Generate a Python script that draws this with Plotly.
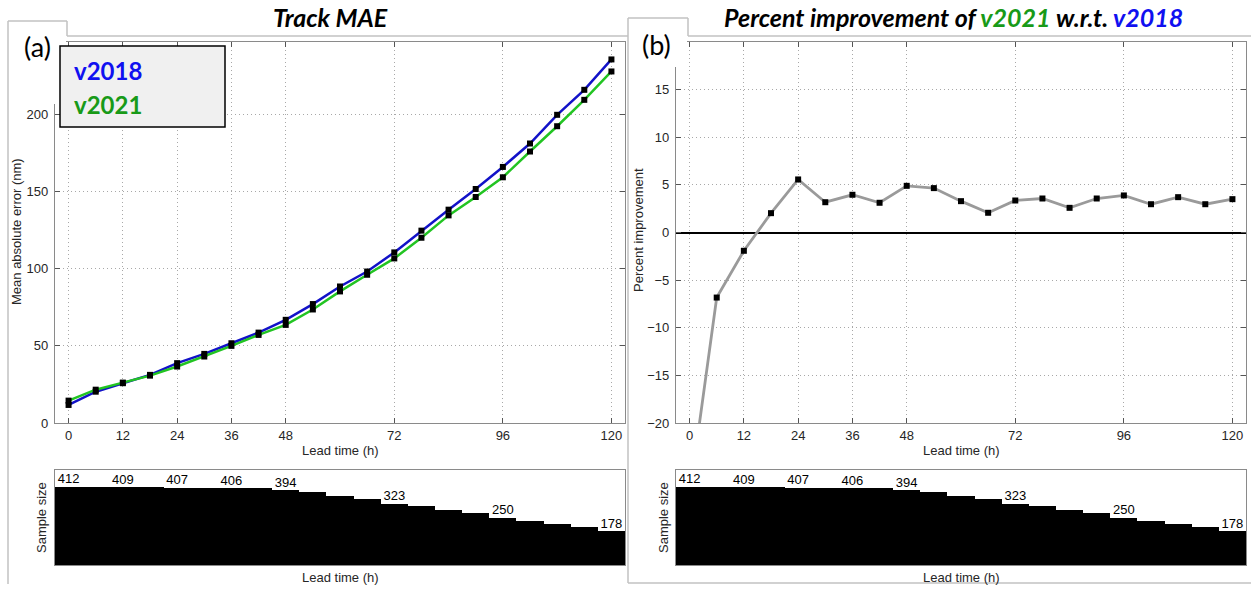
import plotly.graph_objects as go

# reference pixel space
REF_W, REF_H = 1251, 589
# the photographed viewport is slightly taller than 589 px and gets squeezed,
# so the figure is laid out a bit taller while keeping the same paper fractions
W, H = 1251, 597

# ---------------- data ----------------
lead = [0, 6, 12, 18, 24, 30, 36, 42, 48, 54, 60, 66, 72, 78, 84, 90, 96, 102, 108, 114, 120]
mae_v2018 = [11.7, 20.3, 25.8, 31.2, 38.8, 44.8, 51.7, 58.6, 66.9, 77.1, 88.5, 98.2,
             110.6, 124.7, 138.3, 151.7, 166.0, 181.2, 199.8, 216.0, 235.7]
mae_v2021 = [14.5, 21.6, 26.2, 30.7, 36.6, 43.1, 50.0, 57.1, 63.6, 73.6, 85.3, 96.1,
             106.7, 120.1, 134.6, 146.5, 159.3, 176.0, 192.4, 209.5, 227.9]
pct_improvement = [-27.6, -6.83, -1.92, 2.03, 5.57, 3.18, 3.96, 3.12, 4.90, 4.66, 3.29, 2.07,
                   3.36, 3.57, 2.59, 3.57, 3.89, 2.97, 3.71, 2.97, 3.50]
sample_size = [412, 412, 409, 408, 407, 407, 406, 405, 394, 382, 365, 347,
               323, 310, 289, 272, 250, 231, 214, 198, 178]
label_hours = [0, 12, 24, 36, 48, 72, 96, 120]
label_sizes = [412, 409, 407, 406, 394, 323, 250, 178]
x_ticks = [0, 12, 24, 36, 48, 72, 96, 120]
mae_ticks = [0, 50, 100, 150, 200]
pct_ticks = [-20, -15, -10, -5, 0, 5, 10, 15]

BLUE_LINE = "#1212c8"
GREEN_LINE = "#22c422"
BLUE_TXT = "#1010f0"
GREEN_TXT = "#189a18"
GREY_LINE = "#9a9a9a"

TICKFONT = dict(family="Liberation Sans, Arial", size=13, color="#262626")


def px(x):
    return min(1.0, max(0.0, x / REF_W))


def py(y):
    return min(1.0, max(0.0, 1 - y / REF_H))


fig = go.Figure()

# ---- panel (a): MAE ----
fig.add_trace(go.Scatter(x=lead, y=mae_v2018, mode="lines+markers", name="v2018",
                         line=dict(color=BLUE_LINE, width=2.5),
                         marker=dict(symbol="square", size=6, color="black"),
                         xaxis="x", yaxis="y"))
fig.add_trace(go.Scatter(x=lead, y=mae_v2021, mode="lines+markers", name="v2021",
                         line=dict(color=GREEN_LINE, width=2.5),
                         marker=dict(symbol="square", size=6, color="black"),
                         xaxis="x", yaxis="y"))

# ---- panel (b): percent improvement ----
fig.add_trace(go.Scatter(x=lead, y=pct_improvement, mode="lines+markers",
                         line=dict(color=GREY_LINE, width=2.8),
                         marker=dict(symbol="square", size=6, color="black"),
                         xaxis="x3", yaxis="y3"))

# ---- sample size panels ----
for xa, ya in (("x2", "y2"), ("x4", "y4")):
    fig.add_trace(go.Bar(x=lead, y=sample_size, width=6,
                         marker=dict(color="black", line=dict(width=0)),
                         xaxis=xa, yaxis=ya))
    fig.add_trace(go.Scatter(x=label_hours, y=label_sizes, mode="text",
                             text=[str(v) for v in label_sizes],
                             textposition="top center",
                             textfont=dict(family="Liberation Sans, Arial", size=13, color="black"),
                             cliponaxis=False, xaxis=xa, yaxis=ya))

AXLINE = "#8a8a8a"
GRID = "#a8a8a8"
GRIDDASH = "1px,3px"
X_RANGE = [-3, 123]


def main_x(domain, anchor):
    return dict(domain=domain, anchor=anchor, range=X_RANGE, tickvals=x_ticks,
                ticks="inside", ticklen=5, tickcolor="#555", mirror="allticks",
                showline=True, linecolor=AXLINE, linewidth=1.2,
                showgrid=True, gridcolor=GRID, griddash=GRIDDASH, gridwidth=1,
                zeroline=False, tickfont=TICKFONT)


def main_y(domain, anchor, rng, ticks):
    return dict(domain=domain, anchor=anchor, range=rng, tickvals=ticks,
                ticks="inside", ticklen=5, tickcolor="#555", mirror="allticks",
                showline=True, linecolor=AXLINE, linewidth=1.2,
                showgrid=True, gridcolor=GRID, griddash=GRIDDASH, gridwidth=1,
                zeroline=False, tickfont=TICKFONT, ticklabelstandoff=3)


def box_axis(domain, anchor, rng):
    return dict(domain=domain, anchor=anchor, range=rng, showticklabels=False,
                ticks="", showgrid=False, zeroline=False, showline=True,
                mirror=True, linecolor=AXLINE, linewidth=1.2, fixedrange=True)


yr = main_y([py(423), py(42)], "x3", [-20, 20], pct_ticks)
yr.update(zeroline=True, zerolinecolor="black", zerolinewidth=1.6)

fig.update_layout(
    width=W, height=H, autosize=False,
    margin=dict(l=0, r=0, t=0, b=0),
    paper_bgcolor="white", plot_bgcolor="white",
    showlegend=False, bargap=0,
    xaxis=main_x([px(55), px(625)], "y"),
    yaxis=main_y([py(423), py(42)], "x", [0, 247], mae_ticks),
    xaxis2=box_axis([px(55), px(625)], "y2", X_RANGE),
    yaxis2=box_axis([py(565), py(470)], "x2", [0, 500]),
    xaxis3=main_x([px(676), px(1246)], "y3"),
    yaxis3=yr,
    xaxis4=box_axis([px(676), px(1246)], "y4", X_RANGE),
    yaxis4=box_axis([py(565), py(470)], "x4", [0, 500]),
)

# ---------------- shapes (frames, label boxes, legend) ----------------
FRAME = "#c2c2c2"
shapes = []


def seg(x0, y0, x1, y1, color=FRAME, width=1.5):
    shapes.append(dict(type="line", xref="paper", yref="paper",
                       x0=px(x0), y0=py(y0), x1=px(x1), y1=py(y1),
                       line=dict(color=color, width=width), layer="above"))


def rect(x0, y0, x1, y1, fill, line_color=None, lw=0):
    shapes.append(dict(type="rect", xref="paper", yref="paper",
                       x0=px(x0), y0=py(y1), x1=px(x1), y1=py(y0),
                       fillcolor=fill,
                       line=dict(color=line_color or fill, width=lw), layer="above"))


# white label boxes covering plot corners
rect(9, 22, 66, 104, "white")
rect(629, 19, 687, 67, "white")
# legend box
rect(60, 46, 225, 127, "#f0f0f0", "black", 1.5)

# panel frames
seg(8, 21, 8, 584)
seg(8, 21, 67, 21)
seg(67, 21, 67, 36)
seg(67, 36, 628, 36)
seg(628, 18, 628, 583)
seg(628, 18, 688, 18)
seg(688, 18, 688, 36)
seg(688, 36, 1251, 36)
seg(628, 583, 1251, 583)

fig.update_layout(shapes=shapes)

# ---------------- annotations ----------------
ann = []


def text(x, y, s, size, color="black", family="Liberation Sans, Arial", angle=0,
         xanchor="center", yanchor="middle"):
    ann.append(dict(xref="paper", yref="paper", x=px(x), y=py(y), text=s,
                    showarrow=False, textangle=angle, xanchor=xanchor, yanchor=yanchor,
                    font=dict(family=family, size=size, color=color)))


TF = "Lato, Open Sans"
text(330, 17, "<b><i>Track MAE</i></b>", 25, family=TF)
text(953, 17, "<b><i>Percent improvement of <span style='color:%s'>v2021</span> w.r.t. "
     "<span style='color:%s'>v2018</span></i></b>" % (GREEN_TXT, BLUE_TXT), 25, family=TF)
text(37, 47, "(a)", 27, family=TF)
text(657, 44, "(b)", 27, family=TF)
text(72, 70, "<b>v2018</b>", 24, color=BLUE_TXT, family=TF, xanchor="left")
text(72, 104, "<b>v2021</b>", 24, color=GREEN_TXT, family=TF, xanchor="left")

text(340, 450, "Lead time (h)", 13, color="#262626")
text(961, 450, "Lead time (h)", 13, color="#262626")
text(340, 577, "Lead time (h)", 13, color="#262626")
text(961, 577, "Lead time (h)", 13, color="#262626")
text(17, 232, "Mean absolute error (nm)", 13, color="#262626", angle=-90)
text(638, 230, "Percent improvement", 13, color="#262626", angle=-90)
text(41, 518, "Sample size", 13, color="#262626", angle=-90)
text(663, 518, "Sample size", 13, color="#262626", angle=-90)

fig.update_layout(annotations=ann)

# the browser's default 8px body margin would push the figure off the page
fig.write_html("out.html",
               config={"displayModeBar": False},
               post_script="document.body.style.margin='0px';"
                           "document.documentElement.style.overflow='hidden';")
